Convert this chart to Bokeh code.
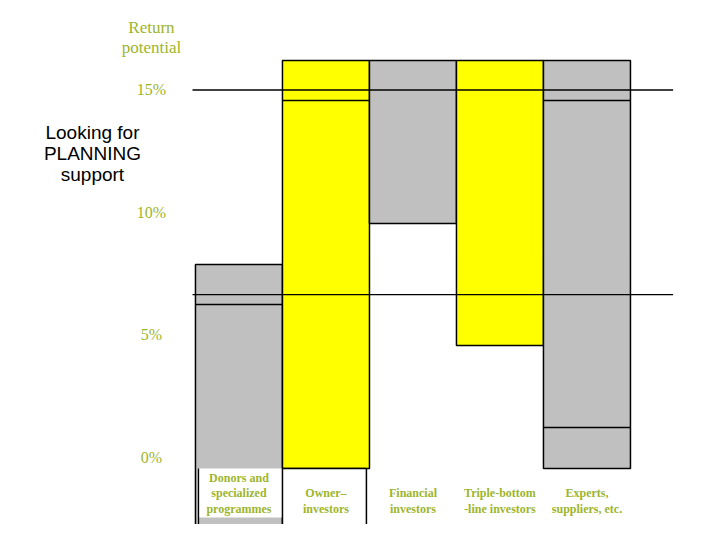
from bokeh.plotting import figure
from bokeh.models import ColumnDataSource, Range1d
from bokeh.core.properties import value
from bokeh.embed import file_html
from bokeh.resources import INLINE

# ---- data ----
categories = ["Donors and\nspecialized\nprogrammes", "Owner\u2013\ninvestors",
              "Financial\ninvestors", "Triple-bottom\n-line investors",
              "Experts,\nsuppliers, etc."]
bar_index = [0, 1, 2, 3, 4]
bar_bottom = [-3.6, -0.45, 9.55, 4.57, -0.45]
bar_top = [7.88, 16.2, 16.2, 16.2, 16.2]
bar_color = ["#C0C0C0", "#FFFF00", "#C0C0C0", "#FFFF00", "#C0C0C0"]
divider_bar = [0, 1, 4, 4]
divider_value = [6.24, 14.57, 14.57, 1.22]
ref_lines = [15.0, 6.65]
tick_values = [15, 10, 5, 0]
tick_labels = ["15%", "10%", "5%", "0%"]
axis_title = "Return\npotential"
side_note = "Looking for\nPLANNING\nsupport"

GREEN = "#9DB52C"

p = figure(width=704, height=524, output_backend="svg", toolbar_location=None,
           x_axis_type=None, y_axis_type=None, min_border=0,
           x_range=Range1d(-2.241, 5.851), y_range=Range1d(-2.735, 18.653))
p.grid.visible = False
p.outline_line_color = None
p.background_fill_color = "white"

# bars
src = ColumnDataSource(dict(
    left=[i for i in bar_index], right=[i + 1 for i in bar_index],
    bottom=bar_bottom, top=bar_top, color=bar_color))
p.quad(left="left", right="right", bottom="bottom", top="top", source=src,
       fill_color="color", line_color="black", line_width=1.5)

# label box inside the donors bar
p.quad(left=[0.035], right=[1.0], bottom=[-2.45], top=[-0.45],
       fill_color="white", line_color=None)
p.segment(x0=[0.035], x1=[0.035], y0=[-3.6], y1=[-0.45], line_color="black", line_width=1.3)

# open box under owner-investors
p.quad(left=[1.0], right=[1.965], bottom=[-3.6], top=[-0.45],
       fill_color="white", line_color="black", line_width=1.5)

# dividers inside bars
p.segment(x0=[b for b in divider_bar], x1=[b + 1 for b in divider_bar],
          y0=divider_value, y1=divider_value, line_color="black", line_width=1.5)

# horizontal reference lines
p.segment(x0=[-0.034] * len(ref_lines), x1=[5.49] * len(ref_lines),
          y0=ref_lines, y1=ref_lines, line_color="black", line_width=1.3)

# tick labels
p.text(x=[-0.506] * len(tick_values), y=tick_values, text=tick_labels,
       text_font=value("Liberation Serif"), text_font_size="16px",
       text_color=GREEN, text_align="center", text_baseline="middle")

# axis title
p.text(x=[-0.506], y=[17.14], text=[axis_title],
       text_font=value("Liberation Serif"), text_font_size="17px",
       text_color=GREEN, text_align="center", text_baseline="middle",
       text_line_height=1.02)

# side note
p.text(x=[-1.184], y=[12.41], text=[side_note],
       text_font=value("Liberation Sans"), text_font_size="19px",
       text_color="black", text_align="center", text_baseline="middle",
       text_line_height=1.02)

# category labels (bottom-aligned)
p.text(x=[i + 0.5 for i in bar_index], y=[-2.38] * len(categories), text=categories,
       text_font=value("Liberation Serif"), text_font_size="12px", text_font_style="bold",
       text_color=GREEN, text_align="center", text_baseline="bottom",
       text_line_height=1.1)

open("out.html", "w").write(file_html(p, INLINE))
